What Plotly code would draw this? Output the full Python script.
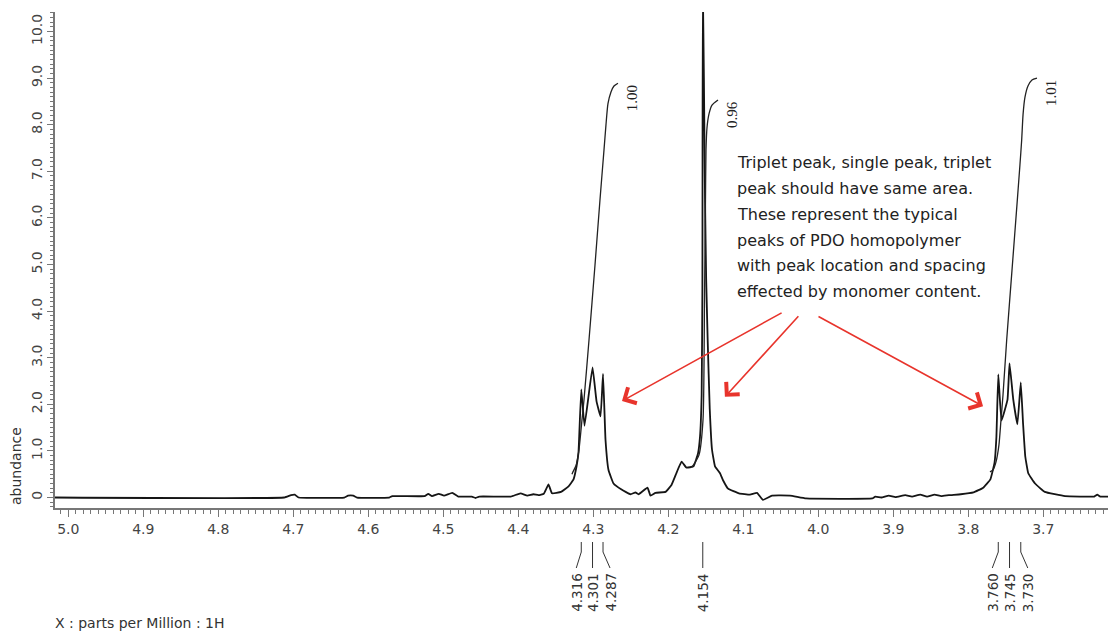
import plotly.graph_objects as go

# ---------------- data ----------------
spec_ppm = [5.0177, 4.712, 4.703, 4.698, 4.693, 4.632, 4.627, 4.620, 4.615, 4.572, 4.568, 4.525, 4.520, 4.515,
            4.506, 4.499, 4.488, 4.480, 4.462, 4.457, 4.452, 4.410, 4.397, 4.388, 4.380, 4.373, 4.366, 4.3597,
            4.355, 4.343, 4.333, 4.3263, 4.3223, 4.3197, 4.316, 4.3117, 4.301, 4.2957, 4.2903, 4.287, 4.2837,
            4.2797, 4.273, 4.2623, 4.2503, 4.2437, 4.2397, 4.2277, 4.2237, 4.217, 4.2037, 4.1957, 4.189, 4.1823,
            4.1757, 4.1663, 4.1603, 4.1577, 4.1555, 4.1545, 4.154, 4.1525, 4.151, 4.1495, 4.1475, 4.1447, 4.1417,
            4.1377, 4.131, 4.127, 4.1203, 4.1057, 4.091, 4.0817, 4.0737, 4.0617, 4.0377, 4.0163, 3.928, 3.924,
            3.916, 3.906, 3.897, 3.884, 3.875, 3.864, 3.855, 3.845, 3.836, 3.826, 3.810, 3.793, 3.780, 3.7705,
            3.765, 3.7625, 3.760, 3.7557, 3.7477, 3.745, 3.740, 3.7345, 3.730, 3.727, 3.724, 3.720, 3.711, 3.698,
            3.671, 3.632, 3.628, 3.624, 3.6137]
spec_abund = [0, 0, 0.05, 0.06, 0, 0, 0.04, 0.04, 0, 0, 0.03, 0.03, 0.08, 0.03,
              0.08, 0.04, 0.10, 0.02, 0.02, -0.01, 0.02, 0.02, 0.09, 0.04, 0.07, 0.05, 0.08, 0.28,
              0.09, 0.12, 0.24, 0.39, 0.67, 0.97, 2.32, 1.54, 2.79, 2.07, 1.74, 2.65, 1.24,
              0.59, 0.30, 0.17, 0.07, 0.11, 0.07, 0.21, 0.04, 0.10, 0.12, 0.27, 0.53, 0.77,
              0.64, 0.67, 0.95, 1.30, 2.2, 4.5, 11.0, 9.0, 6.4, 4.7, 3.4, 1.9, 1.03,
              0.67, 0.52, 0.37, 0.19, 0.09, 0.06, 0.10, -0.05, 0.04, 0.04, -0.02, -0.02, 0.02,
              0.0, 0.04, 0.01, 0.05, 0.02, 0.06, 0.02, 0.06, 0.03, 0.05, 0.07, 0.11, 0.21, 0.39,
              0.75, 1.30, 2.64, 1.65, 2.10, 2.88, 2.10, 1.57, 2.47, 1.60, 0.88, 0.52, 0.30, 0.12,
              0.03, 0.02, 0.06, 0.02, 0.02]

int1_ppm = [4.3284, 4.3271, 4.3231, 4.3191, 4.3151, 4.3124, 4.3057, 4.2977, 4.2911, 4.2857, 4.2831, 4.2804, 4.2764, 4.2724, 4.2671]
int1_val = [0.50, 0.55, 0.68, 1.02, 1.66, 2.09, 3.38, 4.99, 6.38, 7.46, 7.99, 8.45, 8.70, 8.83, 8.89]
int2_ppm = [4.1684, 4.1591, 4.1537, 4.1517, 4.1504, 4.1497, 4.1484, 4.1457, 4.1417, 4.1337]
int2_val = [0.65, 0.91, 1.66, 4.24, 6.38, 7.46, 7.93, 8.23, 8.42, 8.53]
int3_ppm = [3.7711, 3.7671, 3.7631, 3.7591, 3.7564, 3.7537, 3.7488, 3.7417, 3.7351, 3.7311, 3.7288, 3.7270, 3.7244, 3.7204, 3.7151, 3.7084]
int3_val = [0.55, 0.59, 0.76, 1.13, 1.66, 2.20, 3.38, 4.88, 6.28, 7.14, 7.67, 8.21, 8.59, 8.83, 8.96, 9.00]
integral_labels = ["1.00", "0.96", "1.01"]

peak_ppm = [4.316, 4.301, 4.287, 4.154, 3.760, 3.745, 3.730]
peak_text = ["4.316", "4.301", "4.287", "4.154", "3.760", "3.745", "3.730"]
peak_label_shift_px = [-5, 0, 7, 0, -6, 0, 7]

y_tick_vals = [0, 1, 2, 3, 4, 5, 6, 7, 8, 9, 10]
y_tick_text = ["0", "1.0", "2.0", "3.0", "4.0", "5.0", "6.0", "7.0", "8.0", "9.0", "10.0"]

note_lines = ["Triplet peak, single peak, triplet",
              "peak should have same area.",
              "These represent the typical",
              "peaks of PDO homopolymer",
              "with peak location and spacing",
              "effected by monomer content."]

# arrows: (tip_ppm, tip_val, tail_ppm, tail_val)
arrows = [(4.2617, 2.07, 4.0469, 3.98),
          (4.1245, 2.16, 4.0247, 3.92),
          (3.7803, 1.96, 4.0017, 3.90)]

# ---------------- layout constants ----------------
W, H = 1108, 631
ML, MR, MT, MB = 55, 0, 12, 123
XR = [5.0177, 3.6137]
YR = [-0.225, 10.418]
plot_w = W - ML - MR
plot_h = H - MT - MB
ppm_per_px = (XR[0] - XR[1]) / plot_w


def paper_y(py):
    return (H - MB - py) / plot_h


FONT = "DejaVu Sans"
AX = "#777777"

fig = go.Figure()
fig.add_trace(go.Scatter(x=spec_ppm, y=spec_abund, mode="lines",
                         line=dict(color="#151515", width=1.8, shape="spline", smoothing=0.3),
                         hoverinfo="skip"))
for xs, ys in [(int1_ppm, int1_val), (int2_ppm, int2_val), (int3_ppm, int3_val)]:
    fig.add_trace(go.Scatter(x=xs, y=ys, mode="lines",
                             line=dict(color="#222222", width=1.3, shape="spline", smoothing=0.6),
                             hoverinfo="skip"))

annotations = []
for xs, ys, lab in [(int1_ppm, int1_val, integral_labels[0]), (int2_ppm, int2_val, integral_labels[1]),
                    (int3_ppm, int3_val, integral_labels[2])]:
    annotations.append(dict(x=xs[-1], y=ys[-1], xref="x", yref="y", text=lab, showarrow=False,
                            textangle=-90, xshift=14, yshift=-15,
                            font=dict(family="Liberation Serif", size=15, color="#222")))

shapes = []
y0, y1, y2 = paper_y(542), paper_y(552), paper_y(568)
for p, t, s in zip(peak_ppm, peak_text, peak_label_shift_px):
    pe = p - s * ppm_per_px
    shapes.append(dict(type="path", xref="x", yref="paper",
                       path=f"M {p},{y0} L {p},{y1} L {pe},{y2}",
                       line=dict(color="#333", width=1)))
    annotations.append(dict(x=pe, y=paper_y(592.5), xref="x", yref="paper", text=t, showarrow=False,
                            textangle=-90, xanchor="center", yanchor="middle",
                            font=dict(family=FONT, size=13.5, color="#333")))

line_y = [7.18, 6.64, 6.08, 5.52, 4.97, 4.43]
for txt, yy in zip(note_lines, line_y):
    annotations.append(dict(x=4.1113, y=yy, xref="x", yref="y", text=txt, showarrow=False,
                            xanchor="left", yanchor="middle",
                            font=dict(family=FONT, size=16, color="#222")))

for tx, ty, sx, sy in arrows:
    annotations.append(dict(x=tx, y=ty, ax=sx, ay=sy, xref="x", yref="y", axref="x", ayref="y",
                            text="", showarrow=True, arrowhead=4, arrowsize=2.2, arrowwidth=1.6,
                            arrowcolor="#e8342c"))

annotations.append(dict(x=(53 - ML) / plot_w, y=paper_y(623), xref="paper", yref="paper",
                        text="X : parts per Million : 1H", showarrow=False, xanchor="left", yanchor="middle",
                        font=dict(family=FONT, size=14, color="#333")))
annotations.append(dict(x=(16 - ML) / plot_w, y=paper_y(466), xref="paper", yref="paper",
                        text="abundance", showarrow=False, textangle=-90, xanchor="center", yanchor="middle",
                        font=dict(family=FONT, size=14, color="#333")))

fig.update_layout(
    width=W, height=H, margin=dict(l=ML, r=MR, t=MT, b=MB),
    paper_bgcolor="white", plot_bgcolor="white", showlegend=False,
    shapes=shapes, annotations=annotations,
    xaxis=dict(range=XR, showgrid=False, zeroline=False, showline=True, linecolor=AX, linewidth=1.5,
               ticks="outside", ticklen=7, tickwidth=1, tickcolor=AX, dtick=0.1, tick0=0, tickformat=".1f",
               tickfont=dict(family=FONT, size=14, color="#444"),
               minor=dict(dtick=0.01, tick0=0, ticks="outside", ticklen=4, tickcolor=AX, showgrid=False)),
    yaxis=dict(range=YR, showgrid=False, zeroline=False, showline=True, linecolor=AX, linewidth=1.5,
               ticks="outside", ticklen=6, tickwidth=1, tickcolor=AX, tickmode="array",
               tickvals=y_tick_vals, ticktext=y_tick_text, tickangle=-90,
               tickfont=dict(family=FONT, size=14, color="#444"),
               minor=dict(tickmode="linear", dtick=0.1, tick0=0, ticks="outside", ticklen=3,
                          tickcolor=AX, showgrid=False)),
)

fig.write_html("out.html")
